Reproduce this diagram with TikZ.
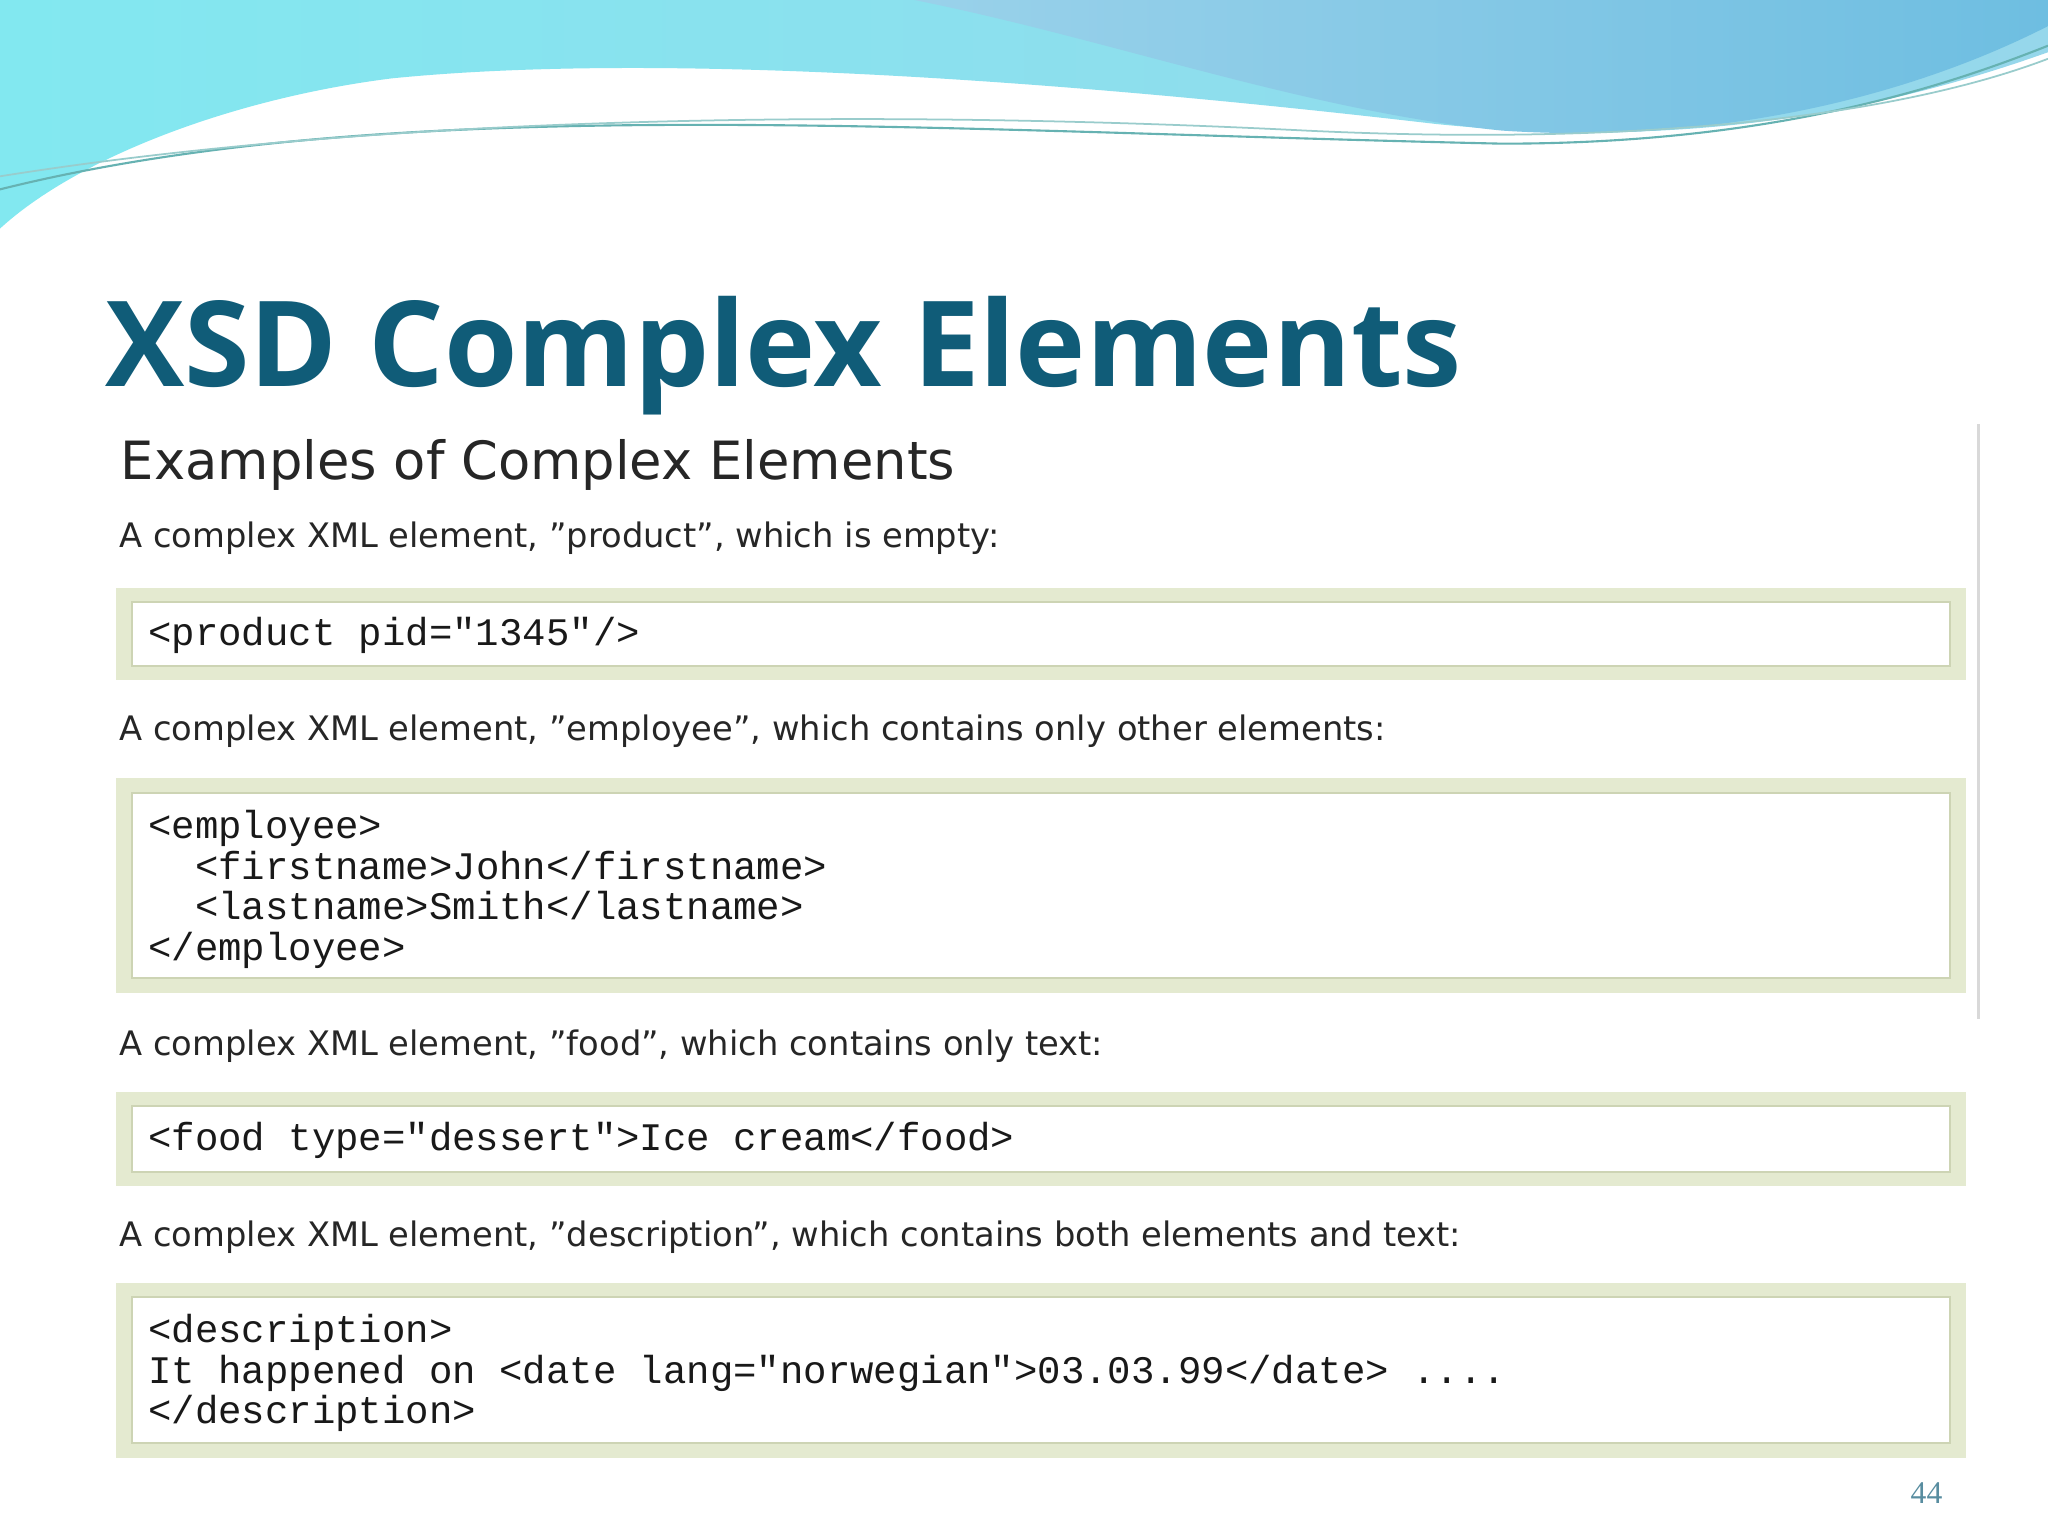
\documentclass[tikz,border=0pt]{standalone}
\usepackage{fontspec}
\setmainfont{DejaVu Sans}
\newfontfamily\titlefont{Open Sans}
\newfontfamily\codefont{Liberation Mono}
\newfontfamily\numfont{Liberation Serif}
\newcommand{\qq}{\char34 }
\begin{document}
\begin{tikzpicture}[x=0.013061cm,y=-0.013061cm,
  outerbox/.style={fill=boxgreen,draw=none},
  innerbox/.style={fill=white,draw=boxline,line width=0.6pt},
  para/.style={anchor=base west,inner sep=0,font=\fontsize{9.6}{11}\selectfont,text=black!85},
  code/.style={anchor=north west,inner sep=0,align=left,font=\codefont\fontsize{11.1}{11.5}\selectfont,text=black!90}]
\definecolor{boxgreen}{RGB}{228,234,208}
\definecolor{boxline}{RGB}{205,212,180}
\definecolor{titleblue}{RGB}{16,92,120}
\definecolor{cyanA}{RGB}{130,232,240}
\definecolor{cyanB}{RGB}{150,215,235}
\definecolor{blueA}{RGB}{110,190,225}
\useasboundingbox (0,0) rectangle (1568,1176);
\fill[white] (0,0) rectangle (1568,1176);
% top wave
\shade[left color=cyanA,right color=cyanB] (0,0) -- (1568,0) -- (1568,40)
  .. controls (1400,100) and (1250,110) .. (1100,95)
  .. controls (800,60) and (500,40) .. (300,60)
  .. controls (180,75) and (60,120) .. (0,175) -- cycle;
\shade[left color=blueA!70,right color=blueA] (700,0) -- (1568,0) -- (1568,20)
  .. controls (1450,80) and (1300,110) .. (1150,100)
  .. controls (1000,85) and (850,30) .. (700,0) -- cycle;
\draw[teal!60,line width=0.6pt] (0,145) .. controls (300,70) and (700,100) .. (1150,110) .. controls (1350,110) and (1480,70) .. (1568,35);
\draw[teal!40,line width=0.5pt] (0,135) .. controls (250,95) and (600,80) .. (1000,100) .. controls (1250,112) and (1450,90) .. (1568,45);
% content panel
\fill[white] (78,325) rectangle (1515,1128);
\draw[black!15,line width=0.8pt] (1515,325) -- (1515,780);
% title
\node[anchor=base west,inner sep=0,text=titleblue,font=\titlefont\bfseries\fontsize{33.8}{36}\selectfont] (title) at (80,296) {XSD Complex Elements};
\node[anchor=base west,inner sep=0,font=\fontsize{15}{17}\selectfont,text=black!85] (h) at (92,367) {Examples of Complex Elements};
% paragraph 1
\node[para] (p1) at (91,419) {A complex XML element, \qq product\qq, which is empty:};
\fill[outerbox] (89,450) rectangle (1505,521);
\draw[innerbox] (101,461) rectangle (1493,510);
\node[code] (c1) at (113,472) {<product pid="1345"/>};
% paragraph 2
\node[para] (p2) at (91,567) {A complex XML element, \qq employee\qq, which contains only other elements:};
\fill[outerbox] (89,596) rectangle (1505,760);
\draw[innerbox] (101,607) rectangle (1493,749);
\node[code] (c2) at (113,620) {<employee>\\\ \ <firstname>John</firstname>\\\ \ <lastname>Smith</lastname>\\</employee>};
% paragraph 3
\node[para] (p3) at (91,808) {A complex XML element, \qq food\qq, which contains only text:};
\fill[outerbox] (89,836) rectangle (1505,908);
\draw[innerbox] (101,847) rectangle (1493,897);
\node[code] (c3) at (113,859) {<food type="dessert">Ice cream</food>};
% paragraph 4
\node[para] (p4) at (91,954) {A complex XML element, \qq description\qq, which contains both elements and text:};
\fill[outerbox] (89,982) rectangle (1505,1116);
\draw[innerbox] (101,993) rectangle (1493,1105);
\node[code] (c4) at (113,1006) {<description>\\It happened on <date lang="norwegian">03.03.99</date> ....\\</description>};
\node[inner sep=0,text=titleblue!70,font=\numfont\fontsize{9}{10}\selectfont] (num) at (1475,1143) {44};
\end{tikzpicture}
\end{document}
